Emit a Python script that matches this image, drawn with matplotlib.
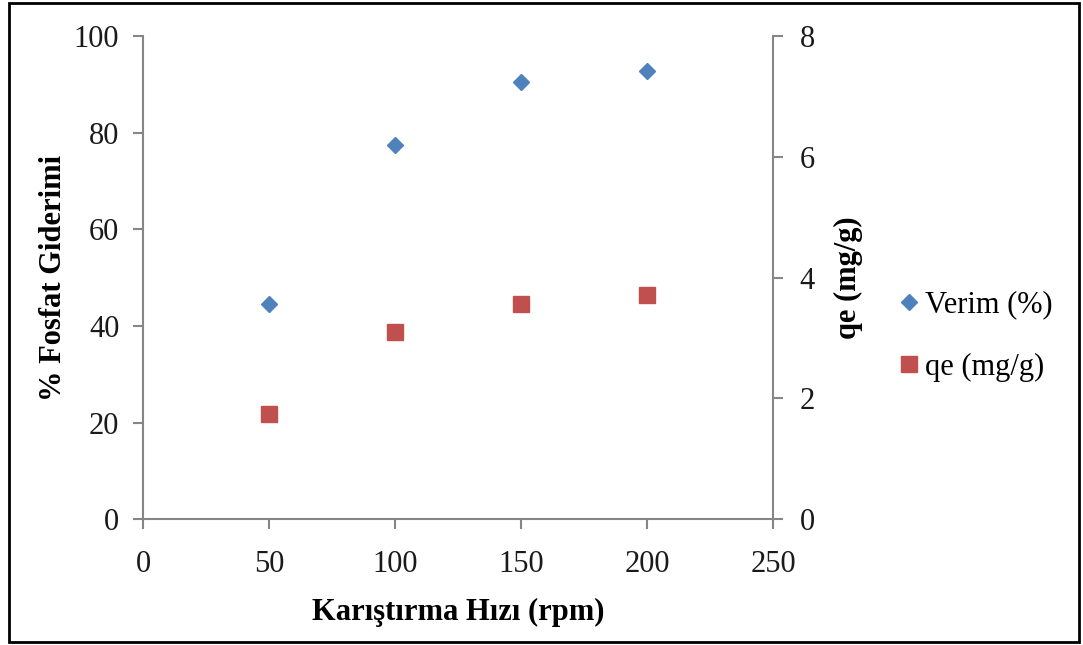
import matplotlib.pyplot as plt
from matplotlib.patches import Rectangle

# karıştırma hızı (rpm) ve sonuçlar
speed = [50, 100, 150, 200]
verim = [44.5, 77.4, 90.5, 92.8]
qe = [1.74, 3.10, 3.56, 3.71]

plt.rcParams['font.family'] = ['Liberation Serif', 'DejaVu Serif']

axis_grey = '#868686'
blue = '#4F81BD'
red = '#C0504D'

fig = plt.figure(figsize=(10.83, 6.45), dpi=100)
ax = fig.add_axes([0.132, 0.195, 0.582, 0.749])
ax2 = ax.twinx()

l1, = ax.plot(speed, verim, linestyle='none', marker='D', markersize=8.5,
              color=blue, label='Verim (%)')
l2, = ax2.plot(speed, qe, linestyle='none', marker='s', markersize=11,
               color=red, label='qe (mg/g)')

ax.set_xlim(0, 250)
ax.set_ylim(0, 100)
ax2.set_ylim(0, 8)
ax.set_xticks([0, 50, 100, 150, 200, 250])
ax.set_yticks([0, 20, 40, 60, 80, 100])
ax2.set_yticks([0, 2, 4, 6, 8])

for a in (ax, ax2):
    for s in a.spines.values():
        s.set_color(axis_grey)
        s.set_linewidth(1.5)
    a.spines['top'].set_visible(False)
    a.tick_params(colors=axis_grey, labelcolor='#1a1a1a', labelsize=22,
                  length=7, width=1.5, direction='out')
ax.spines['right'].set_visible(False)
ax2.spines['left'].set_visible(False)
ax2.spines['bottom'].set_visible(False)
ax.tick_params(axis='y', pad=10)
ax.tick_params(axis='x', pad=15)
ax2.tick_params(axis='y', pad=12)

ax.set_xlabel('Karıştırma Hızı (rpm)', fontsize=22, fontweight='bold', labelpad=14)
ax.set_ylabel('% Fosfat Giderimi', fontsize=22, fontweight='bold', labelpad=4)
ax2.set_ylabel('qe (mg/g)', fontsize=22, fontweight='bold', rotation=90,
               labelpad=14)

fig.legend(handles=[l1, l2], loc='center left', bbox_to_anchor=(0.82, 0.479),
           frameon=False, fontsize=22, handlelength=0.6, handletextpad=0.2,
           labelspacing=1.08, borderaxespad=0)

# çerçeve
fig.patches.append(Rectangle((0.008, 0.004), 0.988, 0.991, transform=fig.transFigure,
                             fill=False, edgecolor='black', linewidth=2))

fig.savefig('out.png', dpi=100)
